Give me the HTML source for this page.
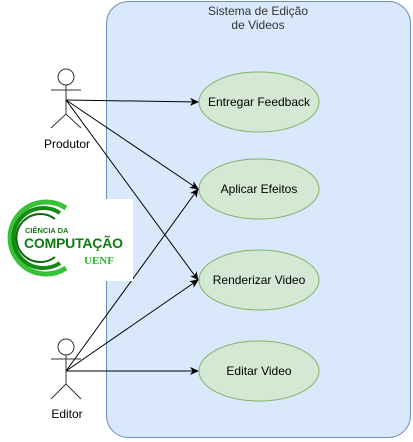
<!DOCTYPE html>
<html><head><style>body{margin:0;background:#fff}svg{display:block}text{font-family:"Liberation Sans",sans-serif;font-size:12px}</style></head><body>
<svg width="413" height="442" viewBox="0 0 413 442">
<defs><marker id="a" markerWidth="10" markerHeight="10" refX="8" refY="5" orient="auto" markerUnits="userSpaceOnUse"><path d="M0,1 L9,5 L0,9 L2.5,5 Z" fill="#000"/></marker></defs>
<rect x="106.5" y="1.5" width="304" height="436" rx="22" fill="#dae8fc" stroke="#6c8ebf"/>
<text x="258" y="15" text-anchor="middle" fill="#333">Sistema de Edição</text>
<text x="258" y="29" text-anchor="middle" fill="#333">de Videos</text>
<g fill="#d5e8d4" stroke="#82b366">
<ellipse cx="259" cy="102" rx="60" ry="30"/><ellipse cx="259" cy="189" rx="60" ry="30"/>
<ellipse cx="259" cy="280" rx="60" ry="30"/><ellipse cx="259" cy="371" rx="60" ry="30"/></g>
<g text-anchor="middle" fill="#000">
<text x="259" y="106">Entregar Feedback</text><text x="259" y="193">Aplicar Efeitos</text>
<text x="259" y="284">Renderizar Video</text><text x="259" y="375">Editar Video</text></g>
<g stroke="#000" fill="none" marker-end="url(#a)">
<line x1="66" y1="100" x2="198" y2="102"/><line x1="66" y1="100" x2="198" y2="189"/><line x1="66" y1="100" x2="198" y2="280"/>
<line x1="66" y1="371" x2="198" y2="371"/><line x1="66" y1="371" x2="198" y2="189"/><line x1="66" y1="371" x2="198" y2="280"/></g>
<g stroke="#333" fill="#fff" stroke-width="1">
<circle cx="66" cy="77" r="8"/><path d="M66 85V114M51 90H81M51 128L66 114L81 128" fill="none"/>
<circle cx="66" cy="347" r="8"/><path d="M66 355V384M51 359H81M51 399L66 384L81 399" fill="none"/></g>
<text x="67" y="148" text-anchor="middle">Produtor</text>
<text x="67" y="418" text-anchor="middle">Editor</text>
<rect x="3" y="199" width="130" height="82" fill="#fff"/>
<path d="M66 208 A36 36 0 1 0 66 268" stroke="#36c236" stroke-width="5" fill="none"/>
<path d="M60 213 A30 30 0 1 0 60 263" stroke="#138a13" stroke-width="4" fill="none"/>
<path d="M55 219 A24 24 0 1 0 55 257" stroke="#0b6b0b" stroke-width="2" fill="none"/>
<rect x="23" y="222" width="102" height="30" fill="#fff"/>
<text x="25" y="233" fill="#1a7a1a" style="font-size:7.5px;font-weight:bold">CIÊNCIA DA</text>
<text x="24" y="248" fill="#0f7a0f" style="font-size:14px;font-weight:bold" textLength="99">COMPUTAÇÃO</text>
<text x="84" y="264" fill="#2db52d" style="font-family:'Liberation Serif',serif;font-size:11px;font-weight:bold">UENF</text>
</svg></body></html>
